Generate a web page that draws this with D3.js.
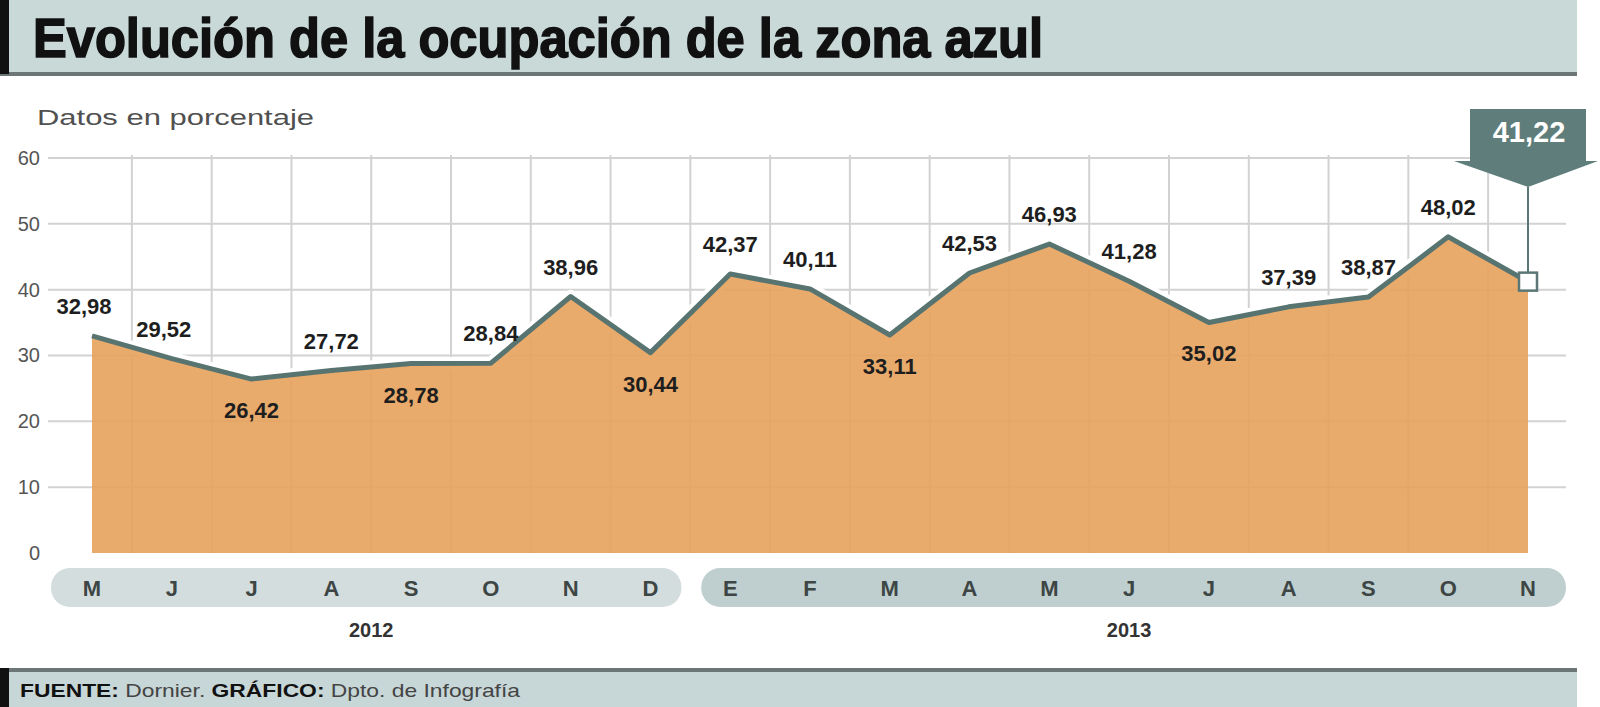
<!DOCTYPE html>
<html><head><meta charset="utf-8">
<script src="https://cdn.jsdelivr.net/npm/d3@7"></script>
<style>
html,body{margin:0;padding:0;background:#fff;}
svg{display:block;font-family:"Liberation Sans",Arial,sans-serif;}
</style></head>
<body><svg id="c" width="1600" height="707"></svg>
<script>
// ---- data ----
const title = "Evolución de la ocupación de la zona azul";
const subtitle = "Datos en porcentaje";
const months = ["M","J","J","A","S","O","N","D","E","F","M","A","M","J","J","A","S","O","N"];
const monthYear = ["2012","2012","2012","2012","2012","2012","2012","2012","2013","2013","2013","2013","2013","2013","2013","2013","2013","2013","2013"];
const years = ["2012","2013"];
const values = [32.98,29.52,26.42,27.72,28.78,28.84,38.96,30.44,42.37,40.11,33.11,42.53,46.93,41.28,35.02,37.39,38.87,48.02,41.22];
const labelSide = ["a","a","b","a","b","a","a","b","a","a","b","a","a","a","b","a","a","a","c"];
const yTicks = [0,10,20,30,40,50,60];
const sourceParts = [["FUENTE:",true],[" Dornier. ",false],["GRÁFICO:",true],[" Dpto. de Infografía",false]];

// ---- layout ----
const svg = d3.select("#c");
const idx = d3.range(values.length);
const x = d3.scalePoint().domain(idx).range([92,1528]);
const y = d3.scaleLinear().domain([0,60]).range([553,158]);
const step = x.step();
const es = d3.formatLocale({decimal:",",thousands:".",grouping:[3],currency:["","€"]});
const fmt = es.format(".2f");

// header band
svg.append("rect").attr("x",0).attr("y",0).attr("width",1577).attr("height",73).attr("fill","#c9d9d8");
svg.append("rect").attr("x",0).attr("y",72).attr("width",1577).attr("height",4).attr("fill","#6d7676");
svg.append("rect").attr("x",0).attr("y",0).attr("width",9).attr("height",74).attr("fill","#111");
svg.append("text").attr("x",33).attr("y",57).attr("font-size",55).attr("font-weight","bold")
  .attr("fill","#111").attr("stroke","#111").attr("stroke-width",1.6)
  .attr("textLength",1010).attr("lengthAdjust","spacingAndGlyphs").text(title);

svg.append("text").attr("x",37).attr("y",125).attr("font-size",22).attr("fill","#505050")
  .attr("textLength",277).attr("lengthAdjust","spacingAndGlyphs").text(subtitle);

// grid
const grid = svg.append("g");
grid.selectAll("line.h").data(yTicks.filter(d=>d>0)).join("line")
  .attr("x1",48).attr("x2",1566).attr("y1",d=>y(d)).attr("y2",d=>y(d))
  .attr("stroke","#d2d2d2").attr("stroke-width",2);
grid.selectAll("line.v").data(idx.slice(0,-1)).join("line")
  .attr("x1",d=>x(d)+step/2).attr("x2",d=>x(d)+step/2)
  .attr("y1",y(60)-3).attr("y2",y(0))
  .attr("stroke","#d2d2d2").attr("stroke-width",2);

// y axis
const yAxis = svg.append("g").attr("transform","translate(42,0)")
  .call(d3.axisLeft(y).tickValues(yTicks).tickSize(0).tickPadding(2));
yAxis.select(".domain").remove();
yAxis.selectAll("text").attr("font-size",20).attr("fill","#555").attr("font-family","Liberation Sans, Arial");

// area + line
const line = d3.line().x((d,i)=>x(i)).y(d=>y(d));
const area = d3.area().x((d,i)=>x(i)).y0(y(0)).y1(d=>y(d));
svg.append("path").datum(values).attr("d",line).attr("fill","none").attr("stroke","#fff").attr("stroke-width",13).attr("stroke-linejoin","round");
svg.append("path").datum(values).attr("d",area).attr("fill","#e7a25c").attr("fill-opacity",0.9);
svg.append("path").datum(values).attr("d",line).attr("fill","none").attr("stroke","#587471").attr("stroke-width",5).attr("stroke-linejoin","round");

// value labels
svg.append("g").selectAll("text").data(values.map((v,i)=>({v,i})).filter(d=>labelSide[d.i]!=="c")).join("text")
  .attr("x",d=>x(d.i)-(d.i<2?8:0))
  .attr("y",d=>labelSide[d.i]==="a"? y(d.v)-22 : y(d.v)+39)
  .attr("text-anchor","middle").attr("font-size",22).attr("font-weight","bold").attr("fill","#1e1e1e")
  .text(d=>fmt(d.v));

// callout for last value
const li = values.length-1, lx = x(li), ly = y(values[li]);
const tipY = 187;
svg.append("line").attr("x1",lx).attr("x2",lx).attr("y1",tipY).attr("y2",ly-9).attr("stroke","#5b7775").attr("stroke-width",2);
svg.append("path").attr("d",`M${lx-58},109 H${lx+58} V161 H${lx+70} L${lx},${tipY} L${lx-74},161 H${lx-58} Z`).attr("fill","#5f7e7b");
svg.append("text").attr("x",lx+1).attr("y",142).attr("text-anchor","middle").attr("font-size",29).attr("font-weight","bold")
  .attr("fill","#fff").text(fmt(values[li]));
svg.append("rect").attr("x",lx-9).attr("y",ly-9).attr("width",18).attr("height",18).attr("fill","#fff").attr("stroke","#5b7775").attr("stroke-width",2.5);

// month pills
const pillY = 568, pillH = 39;
years.forEach((yr,k)=>{
  const ids = idx.filter(i=>monthYear[i]===yr);
  const first = ids[0], last = ids[ids.length-1];
  const x0 = x(first) - (k===0? 41 : 29);
  const x1 = x(last) + (k===years.length-1? 38 : 31);
  svg.append("rect").attr("x",x0).attr("y",pillY).attr("width",x1-x0).attr("height",pillH).attr("rx",19)
    .attr("fill", k===0? "#d3dddd" : "#bfcfcf");
  svg.append("text").attr("x",d3.mean(ids,i=>x(i))).attr("y",637).attr("text-anchor","middle")
    .attr("font-size",20).attr("font-weight","bold").attr("fill","#333").text(yr);
});
svg.append("g").selectAll("text").data(idx).join("text")
  .attr("x",i=>x(i)).attr("y",pillY+pillH/2+8).attr("text-anchor","middle")
  .attr("font-size",22).attr("font-weight","bold").attr("fill","#3d4545").text(i=>months[i]);

// footer
svg.append("rect").attr("x",0).attr("y",669).attr("width",1577).attr("height",38).attr("fill","#c7d6d6");
svg.append("rect").attr("x",0).attr("y",668).attr("width",1577).attr("height",4).attr("fill","#6d7676");
svg.append("rect").attr("x",0).attr("y",668).attr("width",9).attr("height",39).attr("fill","#111");
const ft = svg.append("text").attr("x",20).attr("y",697).attr("font-size",19).attr("fill","#333")
  .attr("textLength",500).attr("lengthAdjust","spacingAndGlyphs");
sourceParts.forEach(([t,b])=>ft.append("tspan").attr("font-weight",b?"bold":"normal").attr("fill",b?"#111":"#444").text(t));
</script></body></html>
